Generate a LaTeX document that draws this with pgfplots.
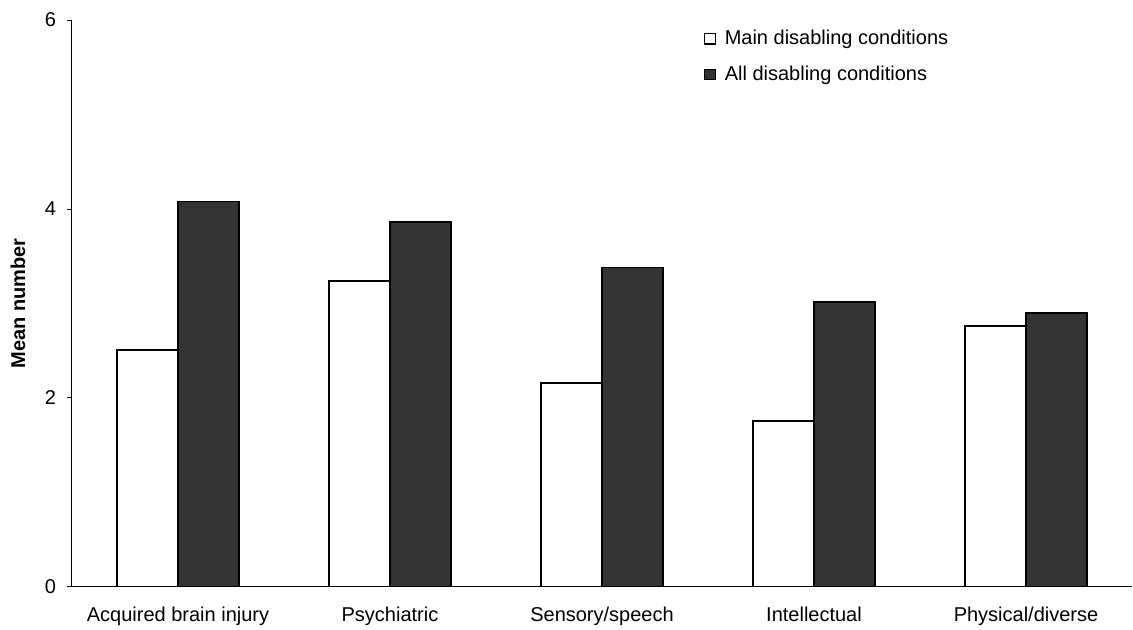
\documentclass[border=0pt]{standalone}
\usepackage{fontspec}
\setmainfont{Liberation Sans}
\usepackage{pgfplots}
\pgfplotsset{compat=1.18}
\definecolor{darkbar}{HTML}{333333}
\begin{document}
\fontsize{10}{12}\selectfont
\begin{tikzpicture}
\begin{axis}[
  at={(0,0)}, anchor=south west,
  scale only axis,
  width=530pt, height=283.5pt,
  xmin=-0.5, xmax=4.5,
  ymin=0, ymax=6,
  ybar=0pt, bar width=30.5pt,
  axis x line*=bottom, axis y line*=left,
  axis line style={black, line width=0.5pt},
  xtick={0,1,2,3,4},
  xticklabels={Acquired brain injury, Psychiatric, Sensory/speech, Intellectual, Physical/diverse},
  x tick style={draw=none},
  minor xtick={-0.5,0.5,1.5,2.5,3.5,4.5},
  minor x tick style={black, line width=0.6pt},
  minor tick length=2.5pt,
  ytick={0,2,4,6},
  major tick length=2.5pt,
  y tick style={black, line width=0.5pt},
  tick align=outside,
  /pgf/number format/assume math mode=true,
  ticklabel style={font=\fontsize{10}{12}\selectfont},
  xticklabel style={yshift=-4pt},
  yticklabel style={xshift=-2pt},
  ylabel={\textbf{Mean number}},
  ylabel style={at={(axis description cs:-0.051,0.5)}, anchor=center, rotate=0, font=\fontsize{10}{12}\selectfont},
  legend style={at={(axis description cs:0.596,0.99)}, anchor=north west, draw=none, fill=none,
    font=\fontsize{10}{12}\selectfont, row sep=5pt, inner sep=0pt},
  legend cell align=left,
  legend image code/.code={\draw[#1, line width=0.6pt] (0pt,-2.6pt) rectangle (5.2pt,2.6pt);},
]
\addplot[fill=white, draw=black, line width=0.9pt] coordinates {(0,2.51) (1,3.24) (2,2.16) (3,1.76) (4,2.76)};
\addlegendentry{\hspace{2.5pt}Main disabling conditions}
\addplot[fill=darkbar, draw=black, line width=0.9pt] coordinates {(0,4.08) (1,3.86) (2,3.38) (3,3.02) (4,2.90)};
\addlegendentry{\hspace{2.5pt}All disabling conditions}
\end{axis}
\pgfresetboundingbox
\path (-36pt,-21.5pt) rectangle (530.5pt,293.5pt);
\end{tikzpicture}
\end{document}
